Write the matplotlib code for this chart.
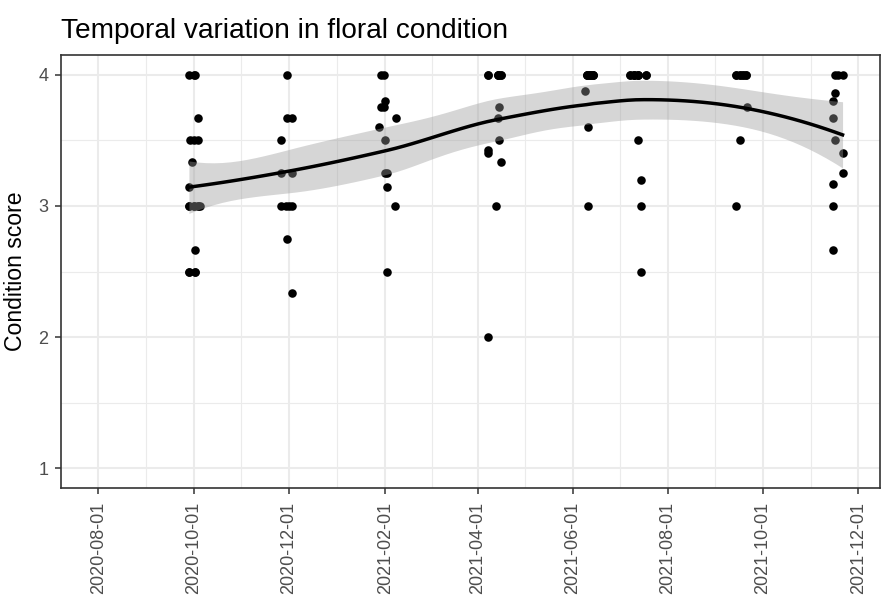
import numpy as np
import pandas as pd
import matplotlib
matplotlib.use("Agg")
import matplotlib.pyplot as plt
import matplotlib.dates as mdates

plt.rcParams['font.family'] = ['Liberation Sans', 'DejaVu Sans']

# one row per scored plot: visit date and condition score
survey_dates = (
    # Sep/Oct 2020
    ['2020-09-28', '2020-10-01', '2020-10-02', '2020-10-04', '2020-09-29', '2020-10-01',
     '2020-10-04', '2020-09-30', '2020-09-28', '2020-09-28', '2020-10-01', '2020-10-04',
     '2020-10-05', '2020-10-02', '2020-09-28', '2020-10-02',
     '2020-09-28', '2020-10-01', '2020-10-04', '2020-09-28', '2020-10-02'] +
    # Nov/Dec 2020
    ['2020-11-30', '2020-11-30', '2020-12-03', '2020-11-26', '2020-11-26', '2020-12-03',
     '2020-11-26', '2020-11-29', '2020-12-01', '2020-12-03', '2020-11-30', '2020-12-03'] +
    # Jan/Feb 2021
    ['2021-01-29', '2021-01-31', '2021-02-01', '2021-01-29', '2021-01-31', '2021-02-08',
     '2021-01-28', '2021-02-01', '2021-02-01', '2021-02-02', '2021-02-02', '2021-02-07',
     '2021-02-02'] +
    # Apr 2021
    ['2021-04-08', '2021-04-14', '2021-04-16', '2021-04-15', '2021-04-14', '2021-04-15',
     '2021-04-08', '2021-04-08', '2021-04-16', '2021-04-13', '2021-04-08',
     '2021-04-08', '2021-04-14', '2021-04-16', '2021-04-14'] +
    # Jun 2021
    ['2021-06-10', '2021-06-12', '2021-06-14', '2021-06-09', '2021-06-11', '2021-06-11',
     '2021-06-10', '2021-06-12', '2021-06-14', '2021-06-10', '2021-06-12', '2021-06-14'] +
    # Jul 2021
    ['2021-07-08', '2021-07-10', '2021-07-13', '2021-07-18', '2021-07-13', '2021-07-15',
     '2021-07-15', '2021-07-15',
     '2021-07-08', '2021-07-10', '2021-07-13', '2021-07-18', '2021-07-10', '2021-07-13'] +
    # Sep 2021
    ['2021-09-14', '2021-09-16', '2021-09-18', '2021-09-20', '2021-09-21', '2021-09-16',
     '2021-09-14',
     '2021-09-14', '2021-09-16', '2021-09-18', '2021-09-20'] +
    # Nov 2021
    ['2021-11-16', '2021-11-18', '2021-11-21', '2021-11-16', '2021-11-15', '2021-11-15',
     '2021-11-16', '2021-11-21', '2021-11-21', '2021-11-15', '2021-11-15', '2021-11-15']
)
condition_scores = (
    [4.0, 4.0, 4.0, 3.667, 3.5, 3.5, 3.5, 3.333, 3.143, 3.0, 3.0, 3.0, 3.0, 2.667, 2.5, 2.5,
     3.0, 3.0, 3.0, 2.5, 2.5] +
    [4.0, 3.667, 3.667, 3.5, 3.25, 3.25, 3.0, 3.0, 3.0, 3.0, 2.75, 2.333] +
    [4.0, 4.0, 3.8, 3.75, 3.75, 3.667, 3.6, 3.5, 3.25, 3.25, 3.143, 3.0, 2.5] +
    [4.0, 4.0, 4.0, 3.75, 3.667, 3.5, 3.429, 3.4, 3.333, 3.0, 2.0,
     4.0, 4.0, 4.0, 4.0] +
    [4.0, 4.0, 4.0, 3.875, 3.6, 3.0,
     4.0, 4.0, 4.0, 4.0, 4.0, 4.0] +
    [4.0, 4.0, 4.0, 4.0, 3.5, 3.2, 3.0, 2.5,
     4.0, 4.0, 4.0, 4.0, 4.0, 4.0] +
    [4.0, 4.0, 4.0, 4.0, 3.75, 3.5, 3.0,
     4.0, 4.0, 4.0, 4.0] +
    [4.0, 4.0, 4.0, 3.857, 3.8, 3.667, 3.5, 3.4, 3.25, 3.167, 3.0, 2.667]
)

y_breaks = [1, 2, 3, 4]
x_breaks = pd.date_range('2020-08-01', '2021-12-01', freq='2MS')


def local_rows(x, x0s, span=0.75):
    # local quadratic with tricube weights; rows give value and slope at x0
    n = len(x)
    q = int(np.floor(n * span))
    val = np.zeros((len(x0s), n))
    slope = np.zeros((len(x0s), n))
    for i, x0 in enumerate(x0s):
        d = np.abs(x - x0)
        h = np.sort(d)[q - 1] * 1.0000001
        w = np.clip(1 - (d / h) ** 3, 0, None) ** 3
        X = np.column_stack([np.ones(n), x - x0, (x - x0) ** 2])
        XtW = X.T * w
        B = np.linalg.solve(XtW @ X, XtW)
        val[i] = B[0]
        slope[i] = B[1]
    return val, slope


def kd_vertices(x, fc):
    a, b = x.min(), x.max()
    pad = 0.005 * (b - a)
    verts = {a - pad, b + pad}

    def split(pts, lo, hi):
        if len(pts) <= fc:
            return
        s = np.sort(pts)
        v = (s[(len(s) - 1) // 2] + s[len(s) // 2]) / 2
        left, right = pts[pts <= v], pts[pts > v]
        if len(left) == 0 or len(right) == 0:
            return
        verts.add(v)
        split(left, lo, v)
        split(right, v, hi)

    split(x, a - pad, b + pad)
    return np.array(sorted(verts))


def loess_operator(x, x_eval, span=0.75, cell=0.2):
    # interpolated loess surface: cubic Hermite between kd-tree vertices
    verts = kd_vertices(x, int(np.floor(len(x) * span * cell)))
    val, slope = local_rows(x, verts, span)
    L = np.zeros((len(x_eval), len(x)))
    for i, t in enumerate(x_eval):
        k = min(max(np.searchsorted(verts, t) - 1, 0), len(verts) - 2)
        h = verts[k + 1] - verts[k]
        u = (t - verts[k]) / h
        h00 = 2 * u ** 3 - 3 * u ** 2 + 1
        h10 = u ** 3 - 2 * u ** 2 + u
        h01 = -2 * u ** 3 + 3 * u ** 2
        h11 = u ** 3 - u ** 2
        L[i] = (h00 * val[k] + h10 * h * slope[k] +
                h01 * val[k + 1] + h11 * h * slope[k + 1])
    return L


def t975(df):
    z = 1.959964
    return z + (z ** 3 + z) / (4 * df) + (5 * z ** 5 + 16 * z ** 3 + 3 * z) / (96 * df ** 2)


df = pd.DataFrame({'date': pd.to_datetime(survey_dates), 'score': condition_scores})
xd = mdates.date2num(df['date'])
yv = df['score'].to_numpy()

L = loess_operator(xd, xd)
res = yv - L @ yv
M = np.eye(len(xd)) - L
M = M.T @ M
one_delta = np.trace(M)
two_delta = np.trace(M @ M)
sigma = np.sqrt(np.sum(res ** 2) / one_delta)
dof = one_delta ** 2 / two_delta

grid = np.linspace(xd.min(), xd.max(), 80)
Lg = loess_operator(xd, grid)
fit = Lg @ yv
se = sigma * np.sqrt(np.sum(Lg ** 2, axis=1))
lo = fit - t975(dof) * se
hi = fit + t975(dof) * se

fig = plt.figure(figsize=(8.83, 5.98), dpi=100)
ax = fig.add_axes([61 / 883, 110 / 598, 819 / 883, 433 / 598])

ax.scatter(df['date'], df['score'], s=38, color='black', linewidths=0, zorder=2)
ax.fill_between(mdates.num2date(grid), lo, hi, color='#999999', alpha=0.4, linewidth=0, zorder=3)
ax.plot(mdates.num2date(grid), fit, color='black', linewidth=2.5, zorder=4)

ax.set_xlim(pd.Timestamp('2020-07-08'), pd.Timestamp('2021-12-15'))
ax.set_ylim(0.85, 4.15)
ax.set_xticks(x_breaks)
ax.set_xticklabels([d.strftime('%Y-%m-%d') for d in x_breaks], rotation=90, va='top', ha='center')
ax.set_yticks(y_breaks)
ax.set_yticklabels([str(v) for v in y_breaks])

xb = mdates.date2num(x_breaks)
minor_x = (xb[:-1] + xb[1:]) / 2
for m in minor_x:
    ax.axvline(m, color='#EBEBEB', linewidth=0.8, zorder=0)
for m in [1.5, 2.5, 3.5]:
    ax.axhline(m, color='#EBEBEB', linewidth=0.8, zorder=0)
for m in xb:
    ax.axvline(m, color='#EBEBEB', linewidth=1.5, zorder=0.5)
for m in y_breaks:
    ax.axhline(m, color='#EBEBEB', linewidth=1.5, zorder=0.5)

for s in ax.spines.values():
    s.set_color('#333333')
    s.set_linewidth(1.2)
ax.tick_params(axis='both', colors='#333333', length=4, width=1.1, labelsize=13,
               labelcolor='#4D4D4D')
ax.tick_params(axis='x', pad=6)
ax.tick_params(axis='y', pad=5)

ax.set_ylabel('Condition score', fontsize=16.6, color='black', labelpad=8)
fig.text(61 / 883, 1 - 38 / 598, 'Temporal variation in floral condition',
         fontsize=20.2, va='baseline', ha='left')

fig.savefig('out.png', dpi=100)
